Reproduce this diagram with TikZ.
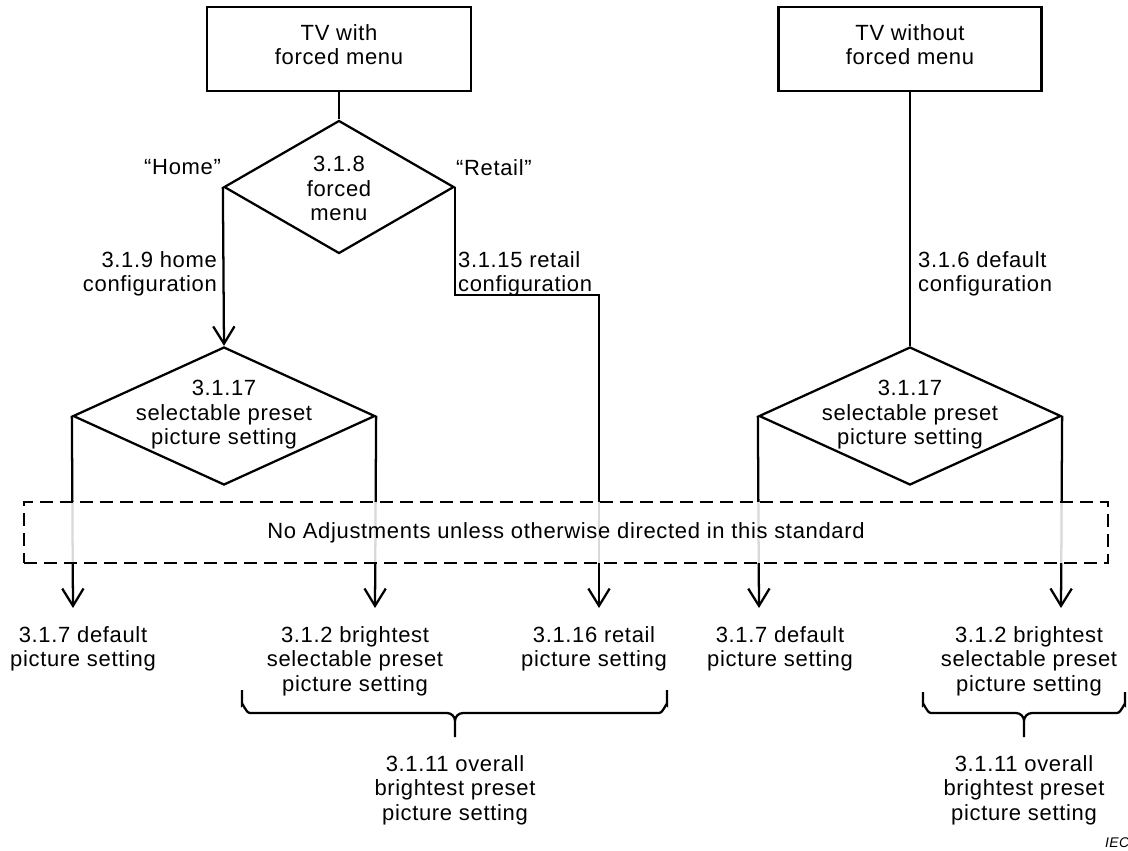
\documentclass[tikz,border=0pt]{standalone}
\usepackage{fontspec}
\setmainfont{Liberation Sans}[LetterSpace=3]
\usetikzlibrary{arrows.meta,shapes.geometric}
\begin{document}
\begin{tikzpicture}[x=0.75pt,y=-0.75pt,line width=1.7pt,
  box/.style={draw, rectangle, inner sep=0pt, minimum width=198pt, minimum height=63pt},
  dia/.style={draw, diamond, inner sep=0pt},
  txt/.style={inner sep=0pt, align=center, font=\fontsize{16.5}{18.4}\selectfont},
  arr/.style={-{Straight Barb[length=13pt,width=16pt]}},
  dbox/.style={draw, dash pattern=on 10pt off 5pt, fill=white, fill opacity=0.85, text opacity=1,
    inner sep=0pt, minimum width=813pt, minimum height=45.75pt, font=\fontsize{16.5}{18.4}\selectfont}]
\useasboundingbox (0,0) rectangle (1128,850);

% top boxes
\node[box] (b1) at (339,49) {};
\node[box, minimum width=197.25pt] (b2) at (910,49) {};
\node[txt, anchor=north] (b1t) at (339,23) {TV with\\forced menu};
\node[txt, anchor=north] (b2t) at (910,23) {TV without\\forced menu};

% diamonds
\node[dia, minimum width=172.5pt, minimum height=99.75pt] (d1) at (339,187) {};
\node[dia, minimum width=226.5pt, minimum height=103.5pt] (d2) at (224,416) {};
\node[dia, minimum width=226.5pt, minimum height=103.5pt] (d3) at (910,416) {};
\node[txt, anchor=north] (d1t) at (339,155) {3.1.8\\forced\\menu};
\node[txt, anchor=north] (d2t) at (224,379) {3.1.17\\selectable preset\\picture setting};
\node[txt, anchor=north] (d3t) at (910,379) {3.1.17\\selectable preset\\picture setting};

% branch labels
\node[txt, anchor=north east] (home) at (222,158) {“Home”};
\node[txt, anchor=north west] (retail) at (455,158) {“Retail”};
\node[txt, anchor=north east, align=right] (hcfg) at (218,250) {3.1.9 home\\configuration};
\node[txt, anchor=north west, align=left] (rcfg) at (457,250) {3.1.15 retail\\configuration};
\node[txt, anchor=north west, align=left] (dcfg) at (917,250) {3.1.6 default\\configuration};

% coordinates
\coordinate (r2) at (599,295);
\coordinate (t1) at (73,608);
\coordinate (t2) at (375,608);
\coordinate (t3) at (599,608);
\coordinate (t4) at (759,608);
\coordinate (t5) at (1061,608);

% connectors
\draw (b1) -- (d1);
\draw[arr] (d1.west) -- (d2.north);
\draw[arr] (d1.east) |- (r2) -- (t3);
\draw (b2) -- (d3);
\draw[arr] (d2.west) -- (t1);
\draw[arr] (d2.east) -- (t2);
\draw[arr] (d3.west) -- (t4);
\draw[arr] (d3.east) -- (t5);

% dashed box
\node[dbox] (nb) at (566,532.5) {No Adjustments unless otherwise directed in this standard};

% bottom labels
\node[txt, anchor=north] (o1) at (83,625) {3.1.7 default\\picture setting};
\node[txt, anchor=north] (o2) at (355,625) {3.1.2 brightest\\selectable preset\\picture setting};
\node[txt, anchor=north] (o3) at (594,625) {3.1.16 retail\\picture setting};
\node[txt, anchor=north] (o4) at (780,625) {3.1.7 default\\picture setting};
\node[txt, anchor=north] (o5) at (1029,625) {3.1.2 brightest\\selectable preset\\picture setting};

% braces
\draw (242,690) -- (242,705) to[out=90,in=180] (250,713) -- (447,713) to[out=0,in=90] (455,721) -- (455,737)
      (455,721) to[out=90,in=180] (463,713) -- (659,713) to[out=0,in=90] (667,705) -- (667,690);
\draw (923,692) -- (923,705) to[out=90,in=180] (931,713) -- (1016,713) to[out=0,in=90] (1024,721) -- (1024,737)
      (1024,721) to[out=90,in=180] (1032,713) -- (1117,713) to[out=0,in=90] (1125,705) -- (1125,692);
\node[txt, anchor=north] (s1) at (455,754) {3.1.11 overall\\brightest preset\\picture setting};
\node[txt, anchor=north] (s2) at (1024,754) {3.1.11 overall\\brightest preset\\picture setting};

\node[inner sep=0pt, anchor=base west, font=\fontsize{10.5}{12}\itshape] (iec) at (1104,847) {IEC};
\end{tikzpicture}
\end{document}
